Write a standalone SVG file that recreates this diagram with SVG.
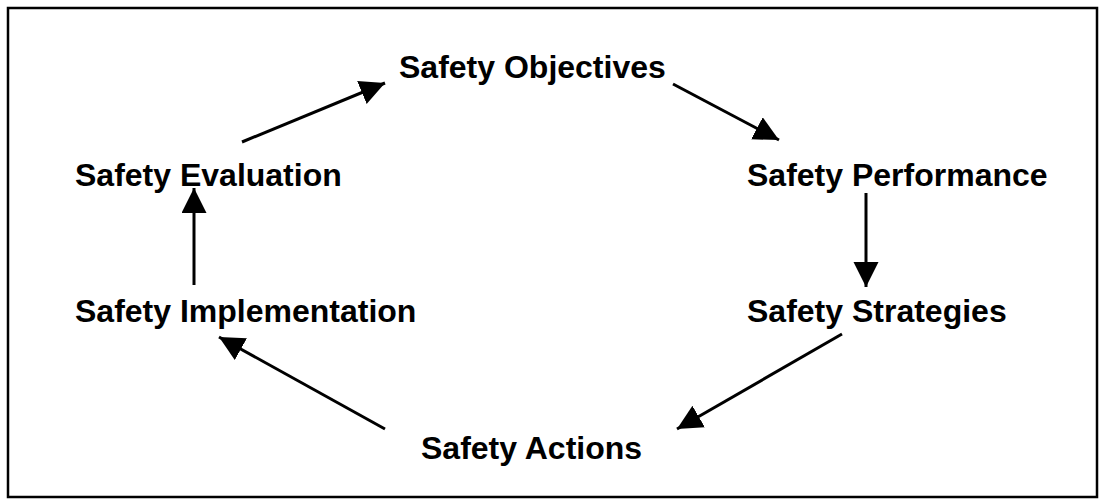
<svg xmlns="http://www.w3.org/2000/svg" width="1105" height="504" viewBox="0 0 1105 504">
  <style>
    .lbl { font-family: "Liberation Sans", Arial, sans-serif; font-weight: bold; font-size: 32px; fill: #000; }
    .conn { stroke: #000; stroke-width: 3; fill: none; marker-end: url(#ah); }
  </style>
  <defs>
    <!-- solid triangular arrowhead, tip sits on the line end -->
    <marker id="ah" markerUnits="userSpaceOnUse" markerWidth="26" markerHeight="26" refX="25" refY="12.5" orient="auto">
      <path d="M0,0 L25,12.5 L0,25 z" fill="#000"/>
    </marker>
  </defs>

  <rect x="0" y="0" width="1105" height="504" fill="#fff"/>
  <!-- outer frame -->
  <rect x="8" y="8" width="1089" height="489" fill="none" stroke="#000" stroke-width="2.5"/>

  <g id="objectives"><text class="lbl" x="399" y="78">Safety Objectives</text></g>
  <g id="performance"><text class="lbl" x="747" y="186">Safety Performance</text></g>
  <g id="strategies"><text class="lbl" x="747" y="322">Safety Strategies</text></g>
  <g id="actions"><text class="lbl" x="421" y="459">Safety Actions</text></g>
  <g id="implementation"><text class="lbl" x="75" y="322">Safety Implementation</text></g>
  <g id="evaluation"><text class="lbl" x="75" y="186">Safety Evaluation</text></g>

  <g id="connectors">
    <line class="conn" x1="242" y1="142" x2="385" y2="83"/>
    <line class="conn" x1="673" y1="84" x2="779" y2="140"/>
    <line class="conn" x1="866" y1="193" x2="866" y2="287"/>
    <line class="conn" x1="842" y1="334" x2="677" y2="429"/>
    <line class="conn" x1="385" y1="429" x2="219" y2="337"/>
    <line class="conn" x1="194" y1="285" x2="194" y2="188"/>
  </g>
</svg>
